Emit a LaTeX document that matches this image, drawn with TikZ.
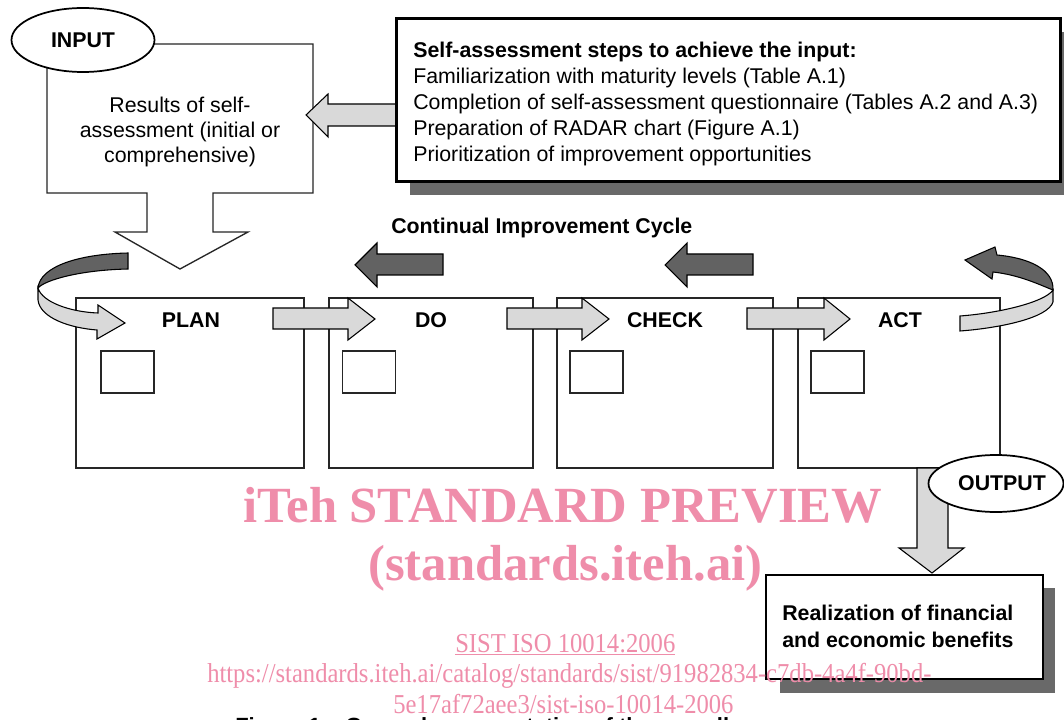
\documentclass[tikz,border=0pt]{standalone}
\usepackage{fontspec}
\setmainfont{Liberation Sans}
\newfontfamily\wmfont{Liberation Serif}
\usetikzlibrary{shapes.geometric}
\definecolor{lgray}{RGB}{217,217,217}
\definecolor{dgray}{RGB}{98,98,98}
\definecolor{shgray}{RGB}{105,105,105}
\definecolor{wmpink}{RGB}{239,141,170}
\begin{document}
\begin{tikzpicture}[x=0.75pt,y=-0.75pt,line join=miter,
  boxline/.style={draw=black!85,line width=1pt,fill=white},
  phasebox/.style={draw=black!85,line width=1pt,fill=white,rectangle,inner sep=0pt},
  sqbox/.style={draw=black!85,line width=1pt,fill=white,rectangle,inner sep=0pt,minimum width=53*0.75pt,minimum height=42*0.75pt},
  lightarrow/.style={draw=black,line width=0.8pt,fill=lgray},
  darkarrow/.style={draw=black,line width=0.8pt,fill=dgray},
  txt/.style={inner sep=0pt,font=\fontsize{16}{19}\selectfont},
  lbl/.style={inner sep=0pt,font=\fontsize{16}{19}\selectfont\bfseries},
  wm/.style={inner sep=0pt,text=wmpink},
  oval/.style={ellipse,draw=black,line width=1.3pt,fill=white,inner sep=0pt,font=\fontsize{16}{19}\selectfont\bfseries}]
\useasboundingbox (0,0) rectangle (1064,720);
\clip (0,0) rectangle (1064,720);
\fill[white] (0,0) rectangle (1064,720);

% ---------- INPUT block ----------
\draw[boxline] (47,44) -- (313,44) -- (313,193) -- (213,193) -- (213,232) -- (248,232)
  -- (180,269) -- (115,232) -- (147,232) -- (147,193) -- (47,193) -- cycle;
\node[txt,anchor=base] (res1) at (180,113) {Results of self-};
\node[txt,anchor=base] (res2) at (180,138) {assessment (initial or};
\node[txt,anchor=base] (res3) at (180,163) {comprehensive)};

% arrow from steps box to input block
\draw[lightarrow] (396,104) -- (328,104) -- (328,94) -- (306,115) -- (328,137) -- (328,126) -- (396,126) -- cycle;

% ---------- Steps box ----------
\fill[shgray] (410,32) rectangle (1074,195);
\node[draw=black,line width=2pt,fill=white,rectangle,inner sep=0pt,anchor=north west,
  minimum width=664*0.75pt,minimum height=163*0.75pt] (steps) at (395,17) {};
\node[lbl,anchor=base west] (st0) at (413,58) {Self-assessment steps to achieve the input:};
\node[txt,anchor=base west] (st1) at (413,84) {Familiarization with maturity levels (Table A.1)};
\node[txt,anchor=base west] (st2) at (413,110) {Completion of self-assessment questionnaire (Tables A.2 and A.3)};
\node[txt,anchor=base west] (st3) at (413,136) {Preparation of RADAR chart (Figure A.1)};
\node[txt,anchor=base west] (st4) at (413,162) {Prioritization of improvement opportunities};

\node[oval,minimum width=143*0.75pt,minimum height=64*0.75pt] (input) at (83,40) {INPUT};

% ---------- Cycle title and back arrows ----------
\node[lbl,anchor=base west] (cycle) at (391,234) {Continual Improvement Cycle};
\draw[darkarrow] (443,254) -- (377,254) -- (377,243) -- (355,265) -- (377,287) -- (377,275) -- (443,275) -- cycle;
\draw[darkarrow] (753,254) -- (687,254) -- (687,243) -- (665,265) -- (687,287) -- (687,275) -- (753,275) -- cycle;

% ---------- PDCA boxes ----------
\node[phasebox,minimum width=228*0.75pt,minimum height=170*0.75pt] (plan) at (190,383) {};
\node[phasebox,minimum width=204*0.75pt,minimum height=170*0.75pt] (do) at (431,383) {};
\node[phasebox,minimum width=216*0.75pt,minimum height=170*0.75pt] (check) at (665,383) {};
\node[phasebox,minimum width=202*0.75pt,minimum height=170*0.75pt] (act) at (899,383) {};
\node[sqbox] (sqplan) at (127.5,372) {};
\node[sqbox] (sqdo) at (369,372) {};
\node[sqbox] (sqcheck) at (596.5,372) {};
\node[sqbox] (sqact) at (837.5,372) {};

% forward arrows
\draw[lightarrow] (273,308) -- (348,308) -- (348,298) -- (375,319) -- (348,340) -- (348,329) -- (273,329) -- cycle;
\draw[lightarrow] (507,308) -- (582,308) -- (582,298) -- (609,319) -- (582,340) -- (582,329) -- (507,329) -- cycle;
\draw[lightarrow] (747,308) -- (824,308) -- (824,298) -- (850,319) -- (824,340) -- (824,329) -- (747,329) -- cycle;

% left curl arrow
\draw[darkarrow] (128,253) .. controls (80,254) and (40,266) .. (38,288)
  .. controls (45,280) and (80,270) .. (128,269) -- cycle;
\draw[lightarrow] (38,288) -- (38,300) .. controls (40,318) and (70,328) .. (97,330)
  -- (97,339) -- (125,323) -- (98,305) -- (98,313) .. controls (70,312) and (42,302) .. (38,288) -- cycle;

% right curl arrow
\draw[lightarrow] (1053,290) -- (1053,302) .. controls (1048,318) and (1000,328) .. (960,331)
  -- (960,316) .. controls (1000,313) and (1045,302) .. (1053,290) -- cycle;
\draw[darkarrow] (997,255) .. controls (1030,258) and (1054,270) .. (1053,290)
  .. controls (1040,285) and (1020,275) .. (993,272) -- (992,279) -- (965,260) -- (995,247) -- cycle;

% labels
\node[lbl] (planlbl) at (191,320) {PLAN};
\node[lbl] (dolbl) at (431,320) {DO};
\node[lbl] (checklbl) at (665,320) {CHECK};
\node[lbl] (actlbl) at (900,320) {ACT};

% ---------- OUTPUT ----------
\draw[lightarrow] (917,468) -- (948,468) -- (948,548) -- (964,548) -- (932,573) -- (899,548) -- (917,548) -- cycle;
\node[oval,minimum width=135*0.75pt,minimum height=57*0.75pt] (output) at (996,483.5) {};
\node[lbl] (outlbl) at (1002,483) {OUTPUT};

\fill[shgray] (780,588) rectangle (1055,693);
\node[draw=black,line width=1.8pt,fill=white,rectangle,inner sep=0pt,anchor=north west,
  minimum width=277*0.75pt,minimum height=104*0.75pt] (benefit) at (765,574) {};
\node[lbl,anchor=base west] (ben1) at (782,620) {Realization of financial};
\node[lbl,anchor=base west] (ben2) at (782,647) {and economic benefits};

% ---------- caption (cut off) ----------
\node[lbl,anchor=base west,font=\fontsize{16.5}{20}\selectfont\bfseries] (caption) at (235,733) {Figure 1 – General representation of the overall};

% ---------- watermark ----------
\node[wm,anchor=base west,font=\wmfont\fontsize{38}{40}\selectfont\bfseries] (wm1) at (243,522) {iTeh STANDARD PREVIEW};
\node[wm,anchor=base west,font=\wmfont\fontsize{38}{40}\selectfont\bfseries] (wm2) at (368,580) {(standards.iteh.ai)};
\node[wm,anchor=base west] (wm3) at (455,652) {\scalebox{0.9}[1]{\wmfont\fontsize{20.5}{24}\selectfont\underline{SIST ISO 10014:2006}}};
\node[wm,anchor=base west] (wm4) at (207,682) {\scalebox{0.9}[1]{\wmfont\fontsize{20.5}{24}\selectfont https://standards.iteh.ai/catalog/standards/sist/91982834-c7db-4a4f-90bd-}};
\node[wm,anchor=base west] (wm5) at (393,713) {\scalebox{0.9}[1]{\wmfont\fontsize{20.5}{24}\selectfont 5e17af72aee3/sist-iso-10014-2006}};
\end{tikzpicture}
\end{document}
